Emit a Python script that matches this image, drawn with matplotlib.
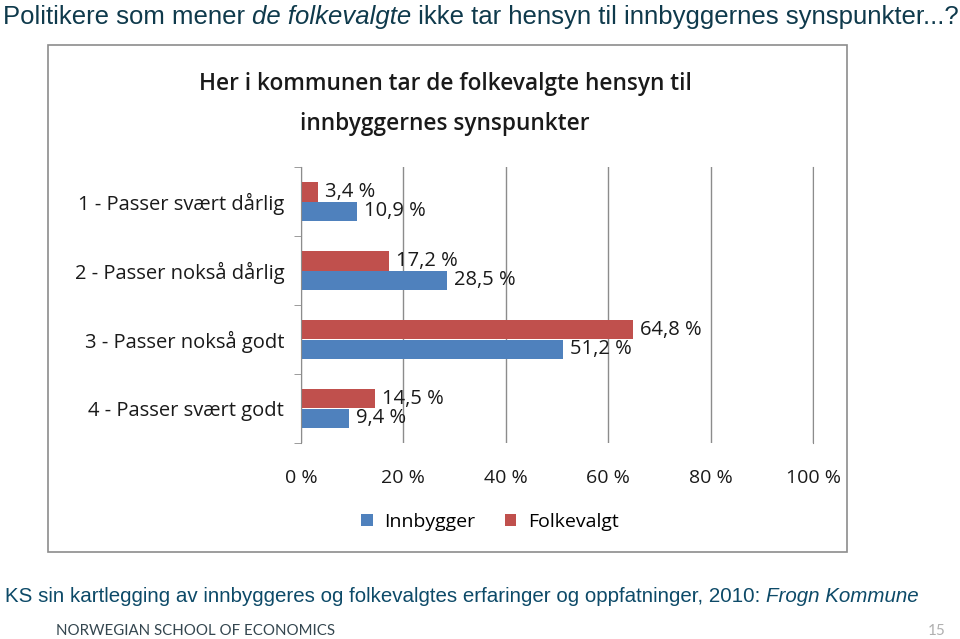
import matplotlib
matplotlib.use("Agg")
import matplotlib.pyplot as plt
from matplotlib.patches import Rectangle
import numpy as np

categories = ["1 - Passer svært dårlig", "2 - Passer nokså dårlig",
              "3 - Passer nokså godt", "4 - Passer svært godt"]
innbygger = [10.9, 28.5, 51.2, 9.4]
folkevalgt = [3.4, 17.2, 64.8, 14.5]
xticks = [0, 20, 40, 60, 80, 100]

blue = "#4F81BD"
red = "#C0504D"
grey = "#8c8c8c"
W, H = 960, 639

plt.rcParams["font.family"] = ["Open Sans", "DejaVu Sans"]

fig = plt.figure(figsize=(W / 100, H / 100), dpi=100)
fig.patch.set_facecolor("white")

# chart frame
fig.patches.append(Rectangle((48 / W, 1 - 552 / H), 799 / W, 507 / H,
                             transform=fig.transFigure, fill=False,
                             edgecolor=grey, linewidth=1.2))

ax = fig.add_axes([301 / W, 1 - 443 / H, 512 / W, 276 / H])
y = np.arange(len(categories))
h = 0.28
ax.barh(y - h / 2, folkevalgt, height=h, color=red, label="Folkevalgt")
ax.barh(y + h / 2, innbygger, height=h, color=blue, label="Innbygger")
ax.set_ylim(len(categories) - 0.5, -0.5)
ax.set_xlim(0, 100)

for i in range(len(categories)):
    ax.annotate(f"{folkevalgt[i]:.1f} %".replace(".", ","), (folkevalgt[i], y[i] - h / 2),
                xytext=(5, 0), textcoords="offset points", va="center",
                fontsize=14.5, color="#1a1a1a")
    ax.annotate(f"{innbygger[i]:.1f} %".replace(".", ","), (innbygger[i], y[i] + h / 2),
                xytext=(5, 0), textcoords="offset points", va="center",
                fontsize=14.5, color="#1a1a1a")

ax.set_xticks(xticks)
ax.set_xticklabels([f"{t} %" for t in xticks], fontsize=14, color="#1a1a1a")
ax.tick_params(axis="x", length=0, pad=19)
ax.set_yticks(y)
ax.set_yticklabels(categories, fontsize=14.5, color="#1a1a1a")
ax.tick_params(axis="y", length=0, pad=12)
ax.set_yticks(np.arange(-0.5, len(categories), 1), minor=True)
ax.tick_params(axis="y", which="minor", length=5, color=grey, direction="out")
ax.grid(axis="x", color=grey, linewidth=1)
ax.set_axisbelow(True)
for s in ["top", "bottom"]:
    ax.spines[s].set_visible(False)
ax.spines["left"].set_color(grey)
ax.spines["right"].set_color(grey)

fig.text(445 / W, 1 - 104 / H,
         "Her i kommunen tar de folkevalgte hensyn til\ninnbyggernes synspunkter",
         ha="center", va="center", fontsize=16.3, fontweight="semibold",
         color="#1a1a1a", linespacing=1.9)

handles, labels = ax.get_legend_handles_labels()
fig.legend(handles[::-1], labels[::-1], loc="center", bbox_to_anchor=(490 / W, 1 - 522 / H),
           ncol=2, frameon=False, fontsize=14, handlelength=0.6, handleheight=0.6,
           columnspacing=1.5, handletextpad=0.6)

# slide texts
r = fig.canvas.get_renderer()
navy = "#0f3a4c"
t1 = fig.text(3 / W, 1 - 17 / H, "Politikere som mener ", ha="left", va="center",
              fontsize=18.5, family="Liberation Sans", color=navy)
x0 = t1.get_window_extent(r).x1
t2 = fig.text(x0 / W, 1 - 17 / H, "de folkevalgte", ha="left", va="center",
              fontsize=18.5, family="Liberation Sans", style="italic", color=navy)
x1 = t2.get_window_extent(r).x1
fig.text(x1 / W, 1 - 17 / H, " ikke tar hensyn til innbyggernes synspunkter...?",
         ha="left", va="center", fontsize=18.5, family="Liberation Sans", color=navy)

cap = "#0d4a68"
c1 = fig.text(5 / W, 1 - 596 / H,
              "KS sin kartlegging av innbyggeres og folkevalgtes erfaringer og oppfatninger, 2010: ",
              ha="left", va="center", fontsize=14.8, family="Liberation Sans", color=cap)
xc = c1.get_window_extent(r).x1
fig.text(xc / W, 1 - 596 / H, "Frogn Kommune", ha="left", va="center", fontsize=14.8,
         family="Liberation Sans", style="italic", color=cap)

fig.text(56 / W, 1 - 631 / H, "NORWEGIAN SCHOOL OF ECONOMICS", ha="left", va="center",
         fontsize=10.8, family="Lato", color="#34464f")
fig.text(946 / W, 1 - 631 / H, "15", ha="right", va="center", fontsize=11,
         family="Lato", color="#b0b0b0")

fig.savefig("out.png", dpi=100, facecolor="white")
